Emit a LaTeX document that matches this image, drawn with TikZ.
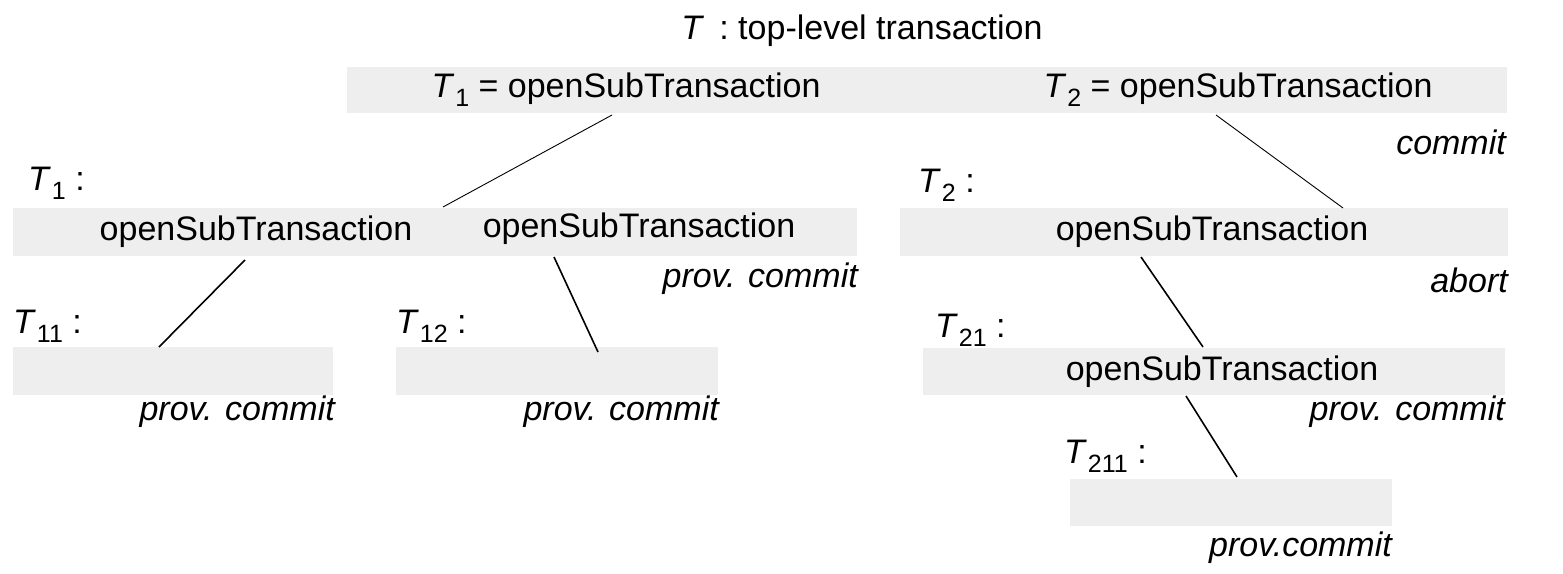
\documentclass[tikz,border=0pt]{standalone}
\usepackage{fontspec}
\setmainfont{Liberation Sans}
\definecolor{boxgray}{HTML}{EEEEEE}
\newcommand{\Tsub}[1]{\textit{T}\kern1pt\raisebox{-0.26em}{\fontsize{25}{25}\selectfont #1}}
\tikzset{
  bar/.style={fill=boxgray, draw=none},
  txt/.style={inner sep=0pt, font=\fontsize{34}{40}\selectfont},
  lab/.style={inner sep=0pt, font=\fontsize{34}{40}\selectfont\itshape, anchor=east},
  tl/.style={inner sep=0pt, font=\fontsize{34}{40}\selectfont, anchor=west},
  thinlink/.style={line width=0.9pt},
  link/.style={line width=1.6pt},
}
\begin{document}
\begin{tikzpicture}[x=1pt,y=-1pt]
\useasboundingbox (0,0) rectangle (1563,573);
% grey bars first
\fill[bar] (347,67) rectangle (1507,113);
\fill[bar] (13,208) rectangle (857,256);
\fill[bar] (900,208) rectangle (1508,256);
\fill[bar] (13,347) rectangle (333,395);
\fill[bar] (396,347) rectangle (718,395);
\fill[bar] (923,348) rectangle (1505,395);
\fill[bar] (1070,479) rectangle (1392,526);
% title
\node[txt] (title) at (862,31) {\textit{T}\ \,: top-level transaction};
% top level
\node[txt] (t1open) at (626,90) {\Tsub{1} = openSubTransaction};
\node[txt] (t2open) at (1238,90) {\Tsub{2} = openSubTransaction};
\node[lab] (commit) at (1506,142) {commit};
% T1 level
\node[tl] (T1lab) at (28,183) {\Tsub{1} :};
\node[txt] (t11open) at (256,232) {openSubTransaction};
\node[txt] (t12open) at (639,229) {openSubTransaction};
\node[lab] (pc1) at (858,279) {prov. commit};
% T2 level
\node[tl] (T2lab) at (918,185) {\Tsub{2} :};
\node[txt] (t21open) at (1212,232) {openSubTransaction};
\node[lab] (abort) at (1508,280) {abort};
% T11
\node[tl] (T11lab) at (13,326) {\Tsub{11} :};
\node[lab] (pc11) at (335,412) {prov. commit};
% T12
\node[tl] (T12lab) at (396,326) {\Tsub{12} :};
\node[lab] (pc12) at (719,412) {prov. commit};
% T21
\node[tl] (T21lab) at (935,330) {\Tsub{21} :};
\node[txt] (t211open) at (1222,372) {openSubTransaction};
\node[lab] (pc21) at (1505,412) {prov. commit};
% T211
\node[tl] (T211lab) at (1064,456) {\Tsub{211} :};
\node[lab] (pc211) at (1392,548) {prov.commit};
% connector end points
\coordinate (a1) at (612,115); \coordinate (b1) at (443,207);
\coordinate (a2) at (1216,115); \coordinate (b2) at (1343,208);
\coordinate (a3) at (245,260); \coordinate (b3) at (159,347);
\coordinate (a4) at (554,257); \coordinate (b4) at (598,352);
\coordinate (a5) at (1141,257); \coordinate (b5) at (1203,347);
\coordinate (a6) at (1186,396); \coordinate (b6) at (1237,477);
\draw[thinlink] (a1) -- (b1);
\draw[thinlink] (a2) -- (b2);
\draw[link] (a3) -- (b3);
\draw[link] (a4) -- (b4);
\draw[link] (a5) -- (b5);
\draw[link] (a6) -- (b6);
\end{tikzpicture}
\end{document}
